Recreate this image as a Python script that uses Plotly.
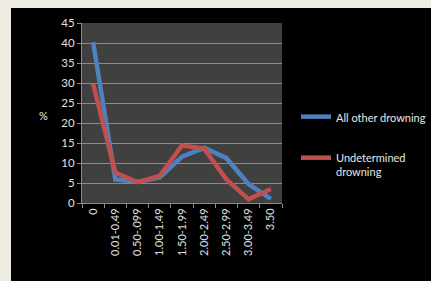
import plotly.graph_objects as go

categories = ["0", "0.01-0.49", "0.50-.099", "1.00-1.49", "1.50-1.99",
              "2.00-2.49", "2.50-2.99", "3.00-3.49", "3.50"]
all_other = [40.2, 5.9, 5.3, 6.4, 11.6, 13.8, 11.2, 4.7, 1.0]
undetermined = [29.8, 7.6, 5.2, 6.8, 14.4, 13.6, 5.9, 0.9, 3.5]
series_names = ["All other drowning", "Undetermined<br>drowning"]

W, H = 431, 281
L, R, T, B = 82, 282, 23, 203

fig = go.Figure()
fig.add_trace(go.Scatter(x=categories, y=all_other, mode="lines", name=series_names[0],
                         legendgroup="a", line=dict(color="#4F81BD", width=4.5)))
fig.add_trace(go.Scatter(x=categories, y=undetermined, mode="lines", name=series_names[1],
                         legendgroup="b", line=dict(color="#C0504D", width=4.5)))

pw, ph = R - L, B - T
def px(x): return (x - L) / pw
def py(y): return (B - y) / ph

fig.add_shape(type="rect", xref="paper", yref="paper", layer="below",
              x0=px(11), x1=px(432), y0=py(282), y1=py(8),
              fillcolor="black", line_width=0)
fig.add_shape(type="rect", xref="paper", yref="paper", layer="below",
              x0=0, x1=1, y0=0, y1=1, fillcolor="#404040", line_width=0)

font = "Lato, Open Sans, sans-serif"
fig.update_layout(
    width=W, height=H,
    margin=dict(l=L, r=W - R, t=T, b=H - B, pad=0, autoexpand=False),
    paper_bgcolor="#EEECE1",
    plot_bgcolor="rgba(0,0,0,0)",
    font=dict(family=font, color="#D9D9D9", size=10),
    showlegend=True,
    legend=dict(x=px(296), xanchor="left", y=py(103), yanchor="top",
                bgcolor="rgba(0,0,0,0)", font=dict(size=11, color="#E8E8E8"),
                tracegroupgap=22, itemwidth=30, valign="top"),
    xaxis=dict(type="category", range=[-0.5, 8.5], showgrid=False,
               showline=True, linecolor="#8C8C8C", linewidth=1,
               ticks="outside", tickson="boundaries", ticklen=4, tickcolor="#8C8C8C",
               tickangle=-90, tickfont=dict(size=11, color="#E0E0E0"), zeroline=False),
    yaxis=dict(range=[0, 45], dtick=5, showgrid=True, gridcolor="#8C8C8C", gridwidth=1,
               showline=True, linecolor="#8C8C8C", linewidth=1,
               ticks="outside", ticklen=4, tickcolor="#8C8C8C",
               tickfont=dict(size=11.5, color="#E0E0E0"), zeroline=False),
    annotations=[dict(text="%", xref="paper", yref="paper", x=px(37), y=py(115),
                      showarrow=False, font=dict(size=11, color="#F0F0F0"))],
)

fig.write_html("out.html", config={"displayModeBar": False})

with open("out.html", "r", encoding="utf-8") as f:
    html = f.read()
html = html.replace("<body>", '<body style="margin:0;padding:0;background:#EEECE1;overflow:hidden">', 1)
with open("out.html", "w", encoding="utf-8") as f:
    f.write(html)
